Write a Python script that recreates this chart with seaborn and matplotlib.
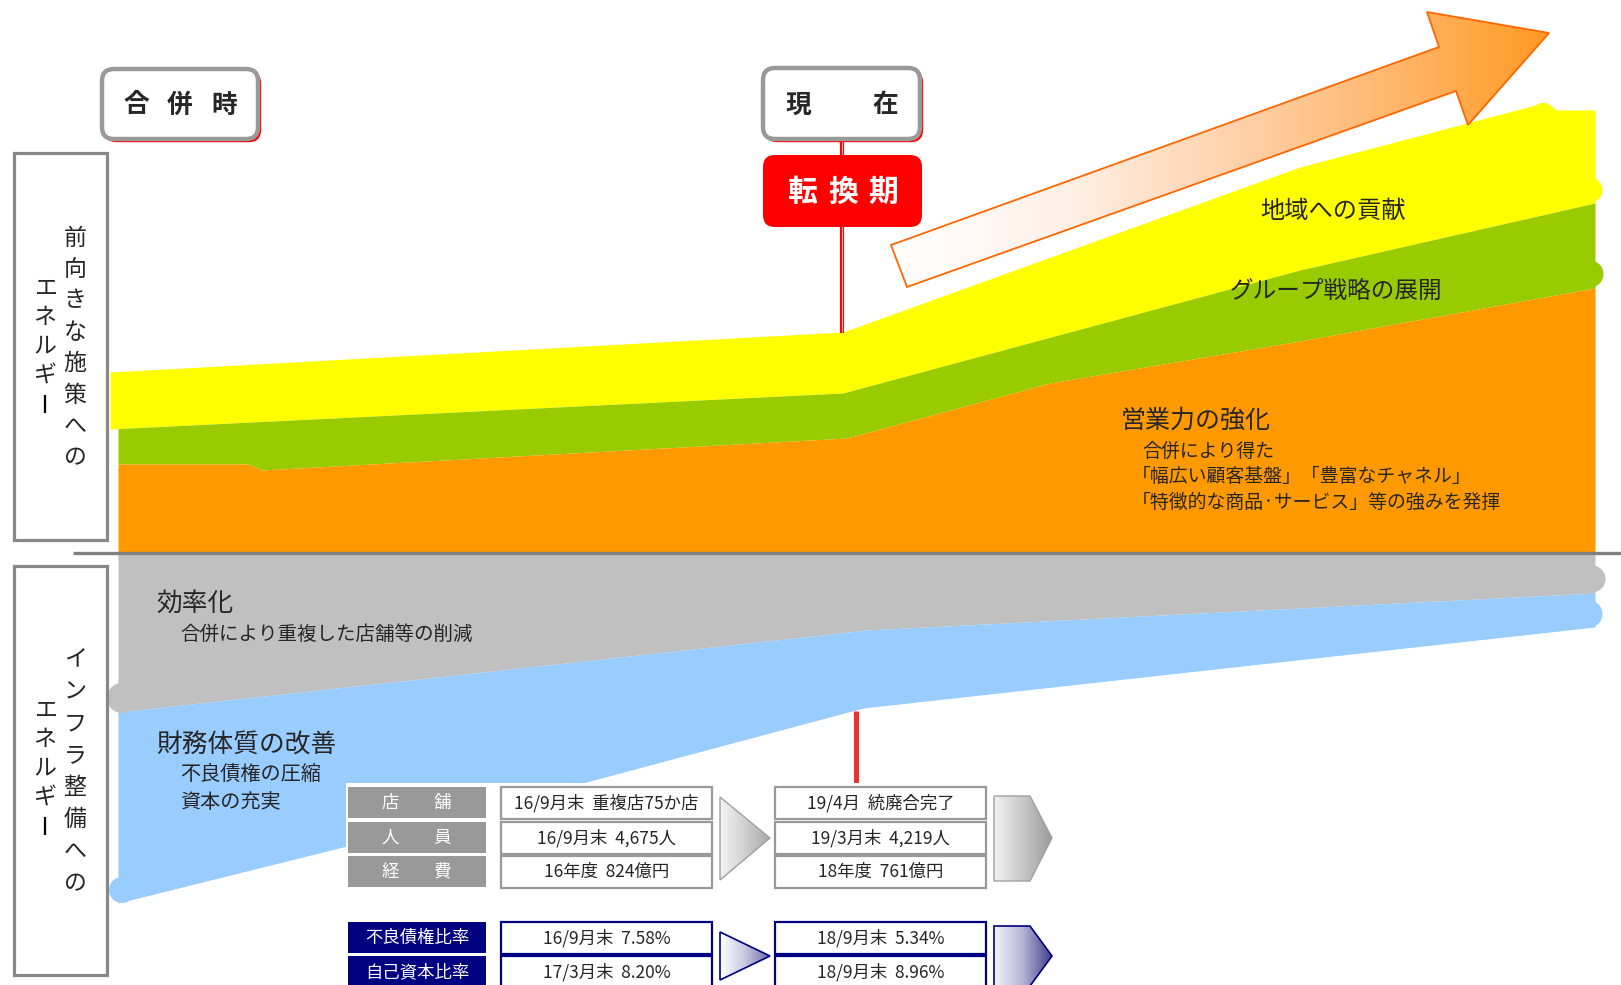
import numpy as np
import matplotlib
matplotlib.use("Agg")
import matplotlib.pyplot as plt
from matplotlib.patches import Polygon, Rectangle, FancyBboxPatch, Circle
from matplotlib.colors import LinearSegmentedColormap
import seaborn as sns

sns.set_theme(style="white")
plt.rcParams['font.family'] = ['Noto Sans CJK JP', 'DejaVu Sans']

# ---------------------------------------------------------------- data
# Upper half: forward-looking energy bands (edges as x / level pairs)
yellow_top_x = [110, 843, 1300, 1543, 1557, 1595]
yellow_top_y = [372, 332, 167, 103, 110, 110]
yellow_bot_x = [110, 843, 1300, 1595]
yellow_bot_y = [429, 393, 270, 203]
green_bot_x = [118, 248, 262, 847, 1050, 1300, 1595]
green_bot_y = [464, 464, 470, 438, 383, 341, 288]
baseline_y = 553

# Lower half: infrastructure energy bands
gray_bot_x = [118, 867, 1595]
gray_bot_y = [712, 630, 593]
blue_bot_x = [118, 347, 863, 1595]
blue_bot_y = [903, 846, 708, 627]

band_labels_upper = ["地域への貢献", "グループ戦略の展開"]
sales_title = "営業力の強化"
sales_lines = ["合併により得た",
               "「幅広い顧客基盤」「豊富なチャネル」",
               "「特徴的な商品·サービス」等の強みを発揮"]
eff_title = "効率化"
eff_lines = ["合併により重複した店舗等の削減"]
fin_title = "財務体質の改善"
fin_lines = ["不良債権の圧縮", "資本の充実"]

side_upper = ["前向きな施策への", "エネルギー"]
side_lower = ["インフラ整備への", "エネルギー"]

merger_label = "合併時"
present_label = "現在"
turning_label = "転換期"

ops_labels = ["店　　舗", "人　　員", "経　　費"]
ops_before = ["16/9月末  重複店75か店", "16/9月末  4,675人", "16年度  824億円"]
ops_after = ["19/4月  統廃合完了", "19/3月末  4,219人", "18年度  761億円"]
ratio_labels = ["不良債権比率", "自己資本比率"]
ratio_before = ["16/9月末  7.58%", "17/3月末  8.20%"]
ratio_after = ["18/9月末  5.34%", "18/9月末  8.96%"]

# ---------------------------------------------------------------- colours
YELLOW, GREEN, ORANGE = "#FFFF00", "#99CC00", "#FF9900"
GRAY, BLUE = "#C0C0C0", "#99CCFF"
CELL_GRAY, NAVY, RED = "#999999", "#000080", "#FF0000"

W, H = 1621, 985
fig = plt.figure(figsize=(W / 100, H / 100), dpi=100)
ax = fig.add_axes([0, 0, 1, 1])
ax.axis("off")


def band(top_x, top_y, bot_x, bot_y, x0, x1, color, z=1):
    xs = np.linspace(x0, x1, 1200)
    top = np.interp(xs, top_x, top_y) if np.ndim(top_y) else np.full_like(xs, top_y)
    bot = np.interp(xs, bot_x, bot_y) if np.ndim(bot_y) else np.full_like(xs, bot_y)
    ax.fill_between(xs, top, bot, color=color, lw=0, zorder=z)


def gradient_poly(verts, colors, edge, lw, z):
    poly = Polygon(verts, closed=True, facecolor="none", edgecolor=edge,
                   lw=lw, zorder=z + 0.1, joinstyle="miter")
    ax.add_patch(poly)
    xs = [v[0] for v in verts]
    ys = [v[1] for v in verts]
    cmap = LinearSegmentedColormap.from_list("g", colors)
    grad = np.linspace(0, 1, 256).reshape(1, -1)
    im = ax.imshow(grad, cmap=cmap, extent=(min(xs), max(xs), max(ys), min(ys)),
                   aspect="auto", zorder=z, interpolation="bilinear")
    im.set_clip_path(poly)


def spaced(text, xs, y, **kw):
    for ch, x in zip(text, xs):
        ax.text(x, y, ch, ha="center", va="center", **kw)


# ---------------------------------------------------------------- bands
band(yellow_top_x, yellow_top_y, yellow_bot_x, yellow_bot_y, 110, 1595, YELLOW)
band(yellow_bot_x, yellow_bot_y, green_bot_x, green_bot_y, 118, 1595, GREEN)
band(green_bot_x, green_bot_y, None, baseline_y, 118, 1595, ORANGE)
band(None, baseline_y, gray_bot_x, gray_bot_y, 118, 1595, GRAY)
band(gray_bot_x, gray_bot_y, blue_bot_x, blue_bot_y, 118, 1595, BLUE)

# rounded brush ends of the bands
for (cx, cy, r, c) in [(1590, 190, 12.5, YELLOW), (1543, 116, 13, YELLOW),
                       (1590, 274, 13.5, GREEN), (1592, 579, 13.5, GRAY),
                       (1589, 614, 13.5, BLUE), (122, 698, 15, GRAY),
                       (122, 890, 13, BLUE)]:
    ax.add_patch(Circle((cx, cy), r, color=c, lw=0, zorder=1.2))

# separator between the two halves
ax.plot([73, W], [baseline_y, baseline_y], color="#808080", lw=2.4,
        solid_capstyle="butt", zorder=3)

# ---------------------------------------------------------------- band texts
ax.text(1333, 211, band_labels_upper[0], fontsize=17.5, ha="center", va="center", zorder=5)
ax.text(1336, 291, band_labels_upper[1], fontsize=17, ha="center", va="center", zorder=5)

ax.text(1121, 421, sales_title, fontsize=18, ha="left", va="center", zorder=5)
for yy, s, xx in zip([451, 476, 502], sales_lines, [1142, 1132, 1132]):
    ax.text(xx, yy, s, fontsize=13.6, ha="left", va="center", zorder=5)

ax.text(156, 604, eff_title, fontsize=18.5, ha="left", va="center", zorder=5)
ax.text(180, 634, eff_lines[0], fontsize=14, ha="left", va="center", zorder=5)
ax.text(156, 746, fin_title, fontsize=18.5, ha="left", va="center", zorder=5)
for yy, s in zip([775, 802], fin_lines):
    ax.text(180, yy, s, fontsize=14.5, ha="left", va="center", zorder=5)

# ---------------------------------------------------------------- growth arrow
arrow_verts = [(891, 245), (1439, 47), (1427, 12), (1549, 33),
               (1468, 125), (1456, 91), (907, 287)]
gradient_poly(arrow_verts, ["#FFFFFF", "#FFF2EA", "#FFD4B0", "#FFB870", "#FF9A22"],
              "#FF6600", 1.3, 4)

# ---------------------------------------------------------------- side boxes
def side_box(y0, y1, cols, starts, steps):
    ax.add_patch(Rectangle((14, y0), 93, y1 - y0, facecolor="white",
                           edgecolor="#888888", lw=2.3, zorder=3))
    for xc, text, st, sp in zip([75, 45], cols, starts, steps):
        for i, ch in enumerate(text):
            if ch == "ー":
                ax.plot([xc, xc], [st + i * sp - 9, st + i * sp + 9],
                        color="black", lw=1.6, solid_capstyle="butt", zorder=4)
                continue
            ax.text(xc, st + i * sp, ch, fontsize=16.5, ha="center", va="center",
                    zorder=4)


side_box(153, 540, side_upper, [238, 288], [31.4, 29])
side_box(566, 975, side_lower, [660, 710], [31.9, 29])

# ---------------------------------------------------------------- stage boxes
def stage_box(x, y, w, h):
    ax.add_patch(FancyBboxPatch((x + 2.5, y + 2.5), w, h,
                                boxstyle="round,pad=0,rounding_size=12",
                                facecolor=RED, edgecolor=RED, lw=1, zorder=5))
    ax.add_patch(FancyBboxPatch((x, y), w, h,
                                boxstyle="round,pad=0,rounding_size=12",
                                facecolor="white", edgecolor=CELL_GRAY, lw=3.2, zorder=5.1))


stage_box(102, 69, 156, 70)
spaced(merger_label, [136, 180, 224], 105, fontsize=18.5, fontweight="bold", zorder=6)
stage_box(763, 68, 157, 71)
spaced(present_label, [798, 885], 105, fontsize=18.5, fontweight="bold", zorder=6)

# turning-point marker line
ax.plot([842, 842], [141, 333], color=RED, lw=3, solid_capstyle="butt", zorder=2)
ax.plot([842, 842], [141, 333], color="#FFB0B0", lw=0.8, solid_capstyle="butt", zorder=2.1)
ax.plot([856, 856], [711, 783], color="#F03030", lw=3.6, solid_capstyle="butt", zorder=2)

ax.add_patch(FancyBboxPatch((763, 155), 159, 72,
                            boxstyle="round,pad=0,rounding_size=12",
                            facecolor=RED, edgecolor="none", zorder=5))
spaced(turning_label, [802, 843, 883], 192, fontsize=21.5, fontweight="bold",
       color="white", zorder=6)

# ---------------------------------------------------------------- tables
ax.add_patch(Rectangle((346, 783), 720, 210, facecolor="white", edgecolor="none", zorder=3))

ops_rows = [787, 822, 856]
ratio_rows = [922, 956]
row_h = 32
before_x, after_x = (501, 712), (775, 986)


def table(rows, labels, before, after, label_color, edge):
    for top, lab, b, a in zip(rows, labels, before, after):
        ax.add_patch(Rectangle((348, top), 138, row_h - 1, facecolor=label_color,
                               edgecolor="none", zorder=4))
        ax.text(417, top + row_h / 2, lab, fontsize=12.5, color="white",
                ha="center", va="center", zorder=5)
        for (x0, x1), s in zip([before_x, after_x], [b, a]):
            ax.add_patch(Rectangle((x0, top), x1 - x0, row_h, facecolor="white",
                                   edgecolor=edge, lw=1.6, zorder=4))
            ax.text((x0 + x1) / 2, top + row_h / 2, s, fontsize=12.5,
                    ha="center", va="center", zorder=5)


table(ops_rows, ops_labels, ops_before, ops_after, CELL_GRAY, "#999999")
table(ratio_rows, ratio_labels, ratio_before, ratio_after, NAVY, NAVY)

# progress chevrons
gradient_poly([(720, 797), (770, 838), (720, 880)],
              ["#F4F4F4", "#D0D0D0", "#A8A8A8"], "#A0A0A0", 1.0, 4)
gradient_poly([(994, 796), (1030, 796), (1052, 838), (1030, 881), (994, 881)],
              ["#F2F2F2", "#C8C8C8", "#9A9A9A"], "#A0A0A0", 1.0, 4)
gradient_poly([(720, 932), (770, 956), (720, 980)],
              ["#FFFFFF", "#C8C8E0", "#6A6AA8"], NAVY, 1.2, 4)
gradient_poly([(994, 926), (1030, 926), (1052, 956), (1030, 986), (994, 986)],
              ["#F4F4F8", "#B4B4D4", "#40408C"], NAVY, 1.2, 4)

ax.set_xlim(0, W)
ax.set_ylim(H, 0)
fig.savefig("out.png", dpi=100, facecolor="white")
